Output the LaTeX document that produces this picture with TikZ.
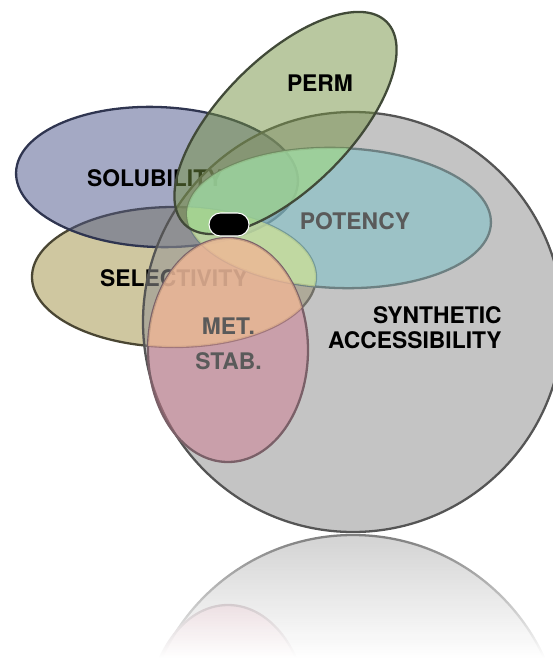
\documentclass[tikz,border=0pt]{standalone}
\usepackage{fontspec}
\setmainfont{TeX Gyre Heros}
\usetikzlibrary{fadings}

\definecolor{selfill}{HTML}{9F8F41}
\definecolor{selline}{HTML}{4A4633}
\definecolor{solfill}{HTML}{495389}
\definecolor{solline}{HTML}{2F3550}
\definecolor{synfill}{HTML}{949494}
\definecolor{synline}{HTML}{555555}
\definecolor{potfill}{HTML}{74C2C8}
\definecolor{potline}{HTML}{6D8082}
\definecolor{metfill}{HTML}{CE7C90}
\definecolor{metline}{HTML}{7A6068}
\definecolor{permfill}{HTML}{739141}
\definecolor{permline}{HTML}{414A38}
\definecolor{engraved}{HTML}{5A5A5A}
\definecolor{salmon}{HTML}{FFCE98}
\definecolor{lime}{HTML}{E8F596}
\definecolor{mint}{HTML}{B4F5B4}

\tikzfading[name=mirror fade, top color=transparent!76, middle color=transparent!50,
            bottom color=transparent!0]

% the property sets, kept as paths so they can be clipped against each other
\newcommand{\selpath}{(3.48,-5.54) ellipse [x radius=2.84, y radius=1.40]}
\newcommand{\metpath}{(4.56,-7.00) ellipse [x radius=1.60, y radius=2.24]}
\newcommand{\potpath}{[rotate around={-2:(6.78,-4.36)}] (6.78,-4.36) ellipse [x radius=3.04, y radius=1.40]}
\newcommand{\permpath}{[rotate around={45:(5.71,-2.46)}] (5.71,-2.46) ellipse [x radius=2.86, y radius=1.30]}

\tikzset{
  rim/.style={line width=1.3pt},
  prop/.style={rim, fill opacity=.5},
  setlbl/.style={font=\fontsize{13}{14.2}\selectfont\bfseries, inner sep=0pt},
}

\begin{document}
\begin{tikzpicture}
  \useasboundingbox (0,0) rectangle (11.06,-13.22);

  % selectivity and solubility sit underneath everything
  \draw[prop, draw=selline, fill=selfill] \selpath;
  \draw[prop, draw=solline, fill=solfill, rotate around={-2:(3.14,-3.54)}]
    (3.14,-3.54) ellipse [x radius=2.82, y radius=1.40];
  \node[setlbl] (sol) at (3.10,-3.56) {SOLUBILITY};
  \node[setlbl] (sel) at (3.48,-5.56) {SELECTIVITY};

  % synthetic accessibility
  \draw[rim, draw=synline, fill=synfill, fill opacity=.55] (7.06,-6.44) circle [radius=4.2];

  % potency, lighter where it meets selectivity
  \draw[prop, draw=potline, fill=potfill] \potpath;
  \begin{scope}
    \clip \selpath;
    \fill[lime, fill opacity=.55] \potpath;
  \end{scope}

  % metabolic stability, warmer where it meets selectivity
  \draw[prop, draw=metline, fill=metfill] \metpath;
  \begin{scope}
    \clip \selpath;
    \fill[salmon, fill opacity=.55] \metpath;
  \end{scope}

  % permeability
  \fill[permfill, fill opacity=.5] \permpath;
  \begin{scope}
    \clip \permpath;
    \fill[mint, fill opacity=.5] \potpath;
  \end{scope}
  \draw[rim, permline] \permpath;

  \node[setlbl] (perm) at (6.40,-1.66) {PERM};
  \node[setlbl, text=engraved] (pot) at (7.10,-4.42) {POTENCY};
  \node[setlbl, text=engraved, align=center, font=\fontsize{13}{19.8}\selectfont\bfseries]
    (met) at (4.57,-6.87) {MET.\\STAB.};
  \node[setlbl, align=right, anchor=east] (synth) at (10.04,-6.56) {SYNTHETIC\\ACCESSIBILITY};

  % the sweet spot
  \node[fill=black, draw=white, line width=.6pt, rounded corners=.23cm,
        minimum width=.80cm, minimum height=.46cm, inner sep=0pt] (spot) at (4.58,-4.49) {};

  % mirror image on the floor
  \begin{scope}
    \clip (0,-10.67) rectangle (11.06,-13.22);
    \begin{scope}[yshift=-21.34cm, yscale=-1]
      \draw[rim, draw=synline, fill=synfill, fill opacity=.55] (7.06,-6.44) circle [radius=4.2];
      \draw[prop, draw=metline, fill=metfill] \metpath;
    \end{scope}
  \end{scope}
  \fill[white, path fading=mirror fade] (0,-10.67) rectangle (11.06,-13.15);
  \fill[white] (0,-13.15) rectangle (11.06,-13.22);
\end{tikzpicture}
\end{document}
